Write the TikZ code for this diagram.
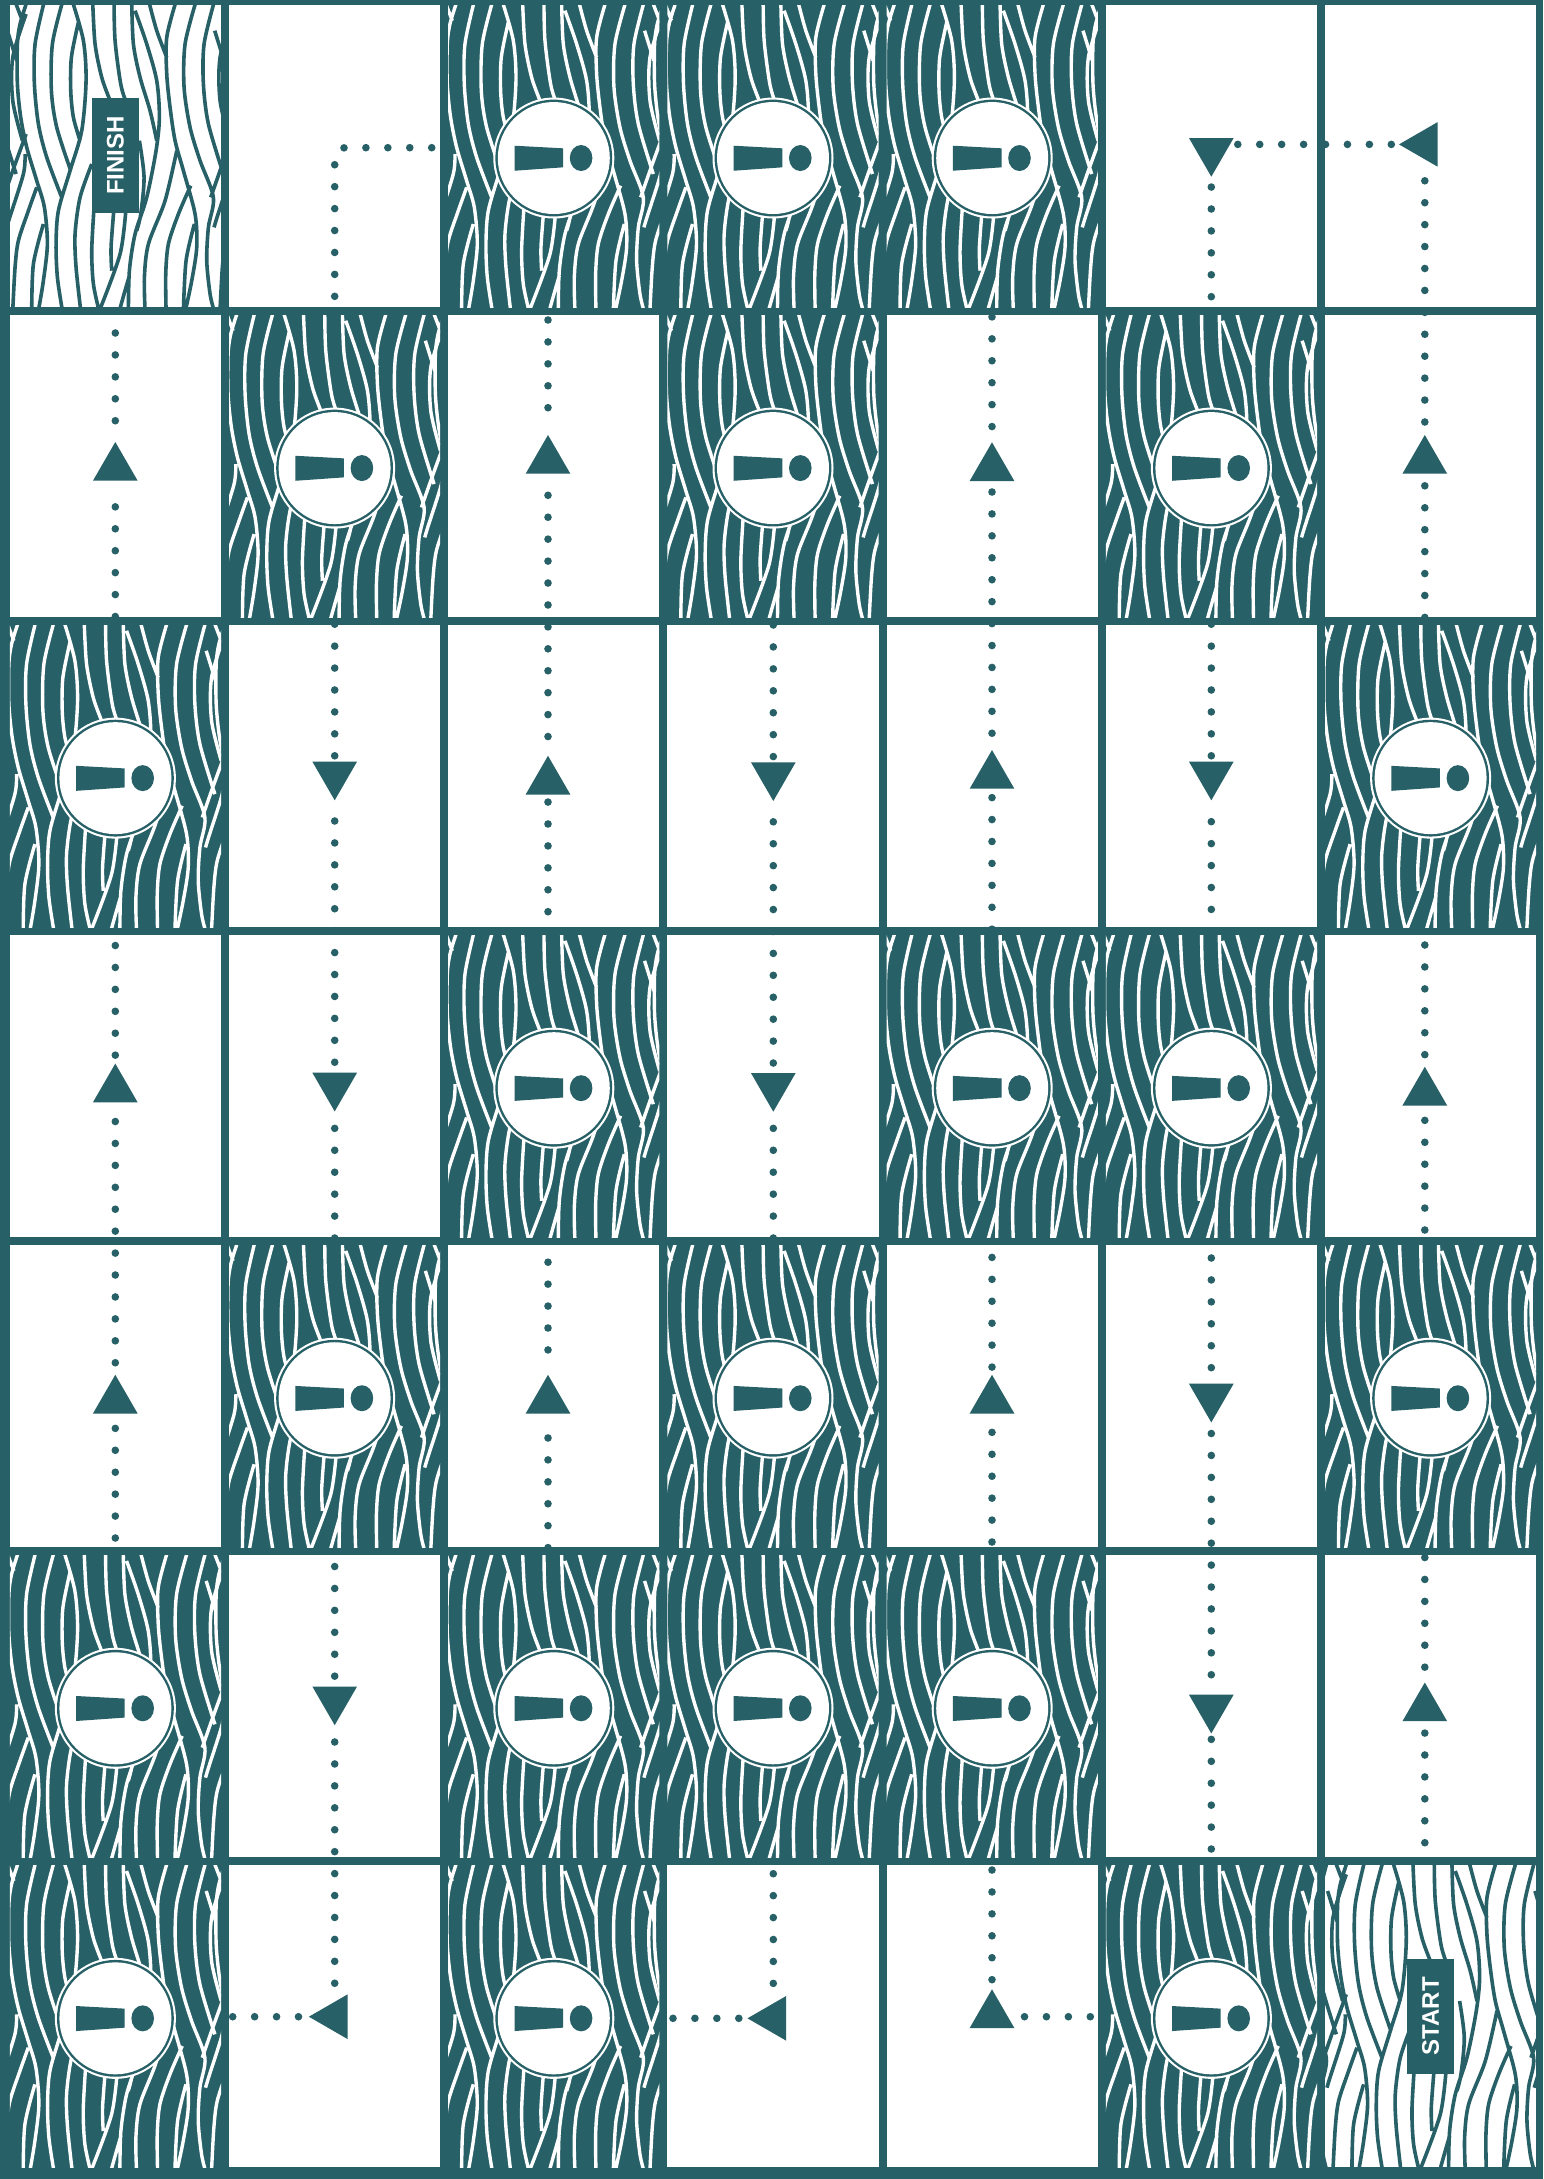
\documentclass[tikz,border=0pt]{standalone}
\usepackage{fontspec}
\setmainfont{Liberation Sans}
\usetikzlibrary{shapes.geometric}
\definecolor{woodteal}{HTML}{276066}

\begin{document}
\begin{tikzpicture}[
  x=0.5pt, y=-0.5pt,
  marker/.style={regular polygon, regular polygon sides=3, fill=woodteal, draw=none,
    minimum size=25.8pt, inner sep=0pt, outer sep=0pt},
  up/.style={marker, shape border rotate=0},
  down/.style={marker, shape border rotate=180},
  left/.style={marker, shape border rotate=90},
  trail/.style={draw=woodteal, line width=3.8pt, line cap=round,
    dash pattern=on 0pt off 10.965pt},
  trailend/.style={trail, shorten >=2.75pt},
  graindark/.style={draw=white, line width=1.7pt},
  grainlight/.style={draw=woodteal, line width=1.8pt},
  badge/.style={fill=woodteal, text=white, rotate=90, inner sep=0pt,
    minimum width=57.3pt, minimum height=23.5pt, font=\fontsize{12}{14}\selectfont\bfseries},
  grain/.pic={
    \begin{scope}[x=0.16667pt, y=-0.16667pt, shift={(-346,-466)}]
    \draw[pic actions]
      plot[smooth] coordinates {(80,5) (60,70) (52,130) (52,250) (62,350) (80,440) (110,540) (133,620) (142,730) (130,840) (115,930)}
      plot[smooth] coordinates {(132,5) (105,130) (103,250) (115,370) (140,470) (185,590)}
      plot[smooth] coordinates {(187,5) (157,130) (154,270) (170,380) (212,510)}
      plot[smooth] coordinates {(218,5) (250,120) (258,240) (245,390) (210,510) (175,630) (168,730) (172,830) (187,930)}
      plot[smooth] coordinates {(235,65) (214,170) (212,270) (220,350) (240,420)}
      plot[smooth] coordinates {(278,5) (285,130) (305,230) (330,300) (345,340)}
      plot[smooth] coordinates {(342,5) (345,120) (362,250) (380,310) (395,350)}
      plot[smooth] coordinates {(395,5) (400,130) (420,230) (450,330) (470,420)}
      plot[smooth] coordinates {(405,30) (440,130) (470,240) (478,350) (468,450) (440,590) (405,700) (388,810) (385,930)}
      plot[smooth] coordinates {(530,450) (495,600) (445,730) (433,830) (435,930)}
      plot[smooth] coordinates {(447,5) (470,90) (500,170)}
      plot[smooth] coordinates {(527,5) (500,110) (500,220) (510,320) (525,420) (550,510) (585,640) (590,740) (575,840) (556,930)}
      plot[smooth] coordinates {(587,5) (555,130) (552,260) (570,380) (600,480) (640,590) (625,680) (620,780) (630,880) (642,930)}
      plot[smooth] coordinates {(642,5) (612,130) (610,250) (625,370) (670,520)}
      plot[smooth] coordinates {(700,400) (689,430) (660,510) (632,590)}
      plot[smooth] coordinates {(700,40) (660,170) (660,300) (689,420)}
      plot[smooth] coordinates {(46,5) (67,60)}
      plot[smooth] coordinates {(22,90) (50,180)}
      plot[smooth] coordinates {(75,460) (70,520) (29,650) (20,680)}
      plot[smooth] coordinates {(110,560) (85,630) (55,720) (45,800) (38,930)}
      plot[smooth] coordinates {(130,670) (100,790) (95,930)}
      plot[smooth] coordinates {(275,490) (240,590) (225,700) (228,800) (242,930)}
      plot[smooth] coordinates {(282,620) (275,750) (280,850) (297,930)}
      plot[smooth] coordinates {(342,620) (333,740) (335,810)}
      plot[smooth] coordinates {(378,620) (360,760) (298,930)}
      plot[smooth] coordinates {(388,825) (372,880) (358,930)}
      plot[smooth] coordinates {(418,420) (432,530) (422,640) (410,690)}
      plot[smooth] coordinates {(572,555) (535,640) (505,730) (497,820) (498,930)}
      plot[smooth] coordinates {(583,670) (558,780) (550,930)};
    \end{scope}
  },
  hazard/.pic={
    \fill[white] (0,0) circle (60.5);
    \fill[woodteal] (0,0) circle (58.4);
    \fill[white] (0,0) circle (56);
    \fill[woodteal] (-39.3,-12.3) -- (9.3,-9.7) -- (9.3,9.3) -- (-39.3,12.7) -- cycle;
    \fill[woodteal] (27.3,0) ellipse (11.3 and 13);
  }
]
\useasboundingbox (0,0) rectangle (1543,2179);

% ---------------------------------------------------------------------------
% board: dark ground, white cells on top
% ---------------------------------------------------------------------------
\fill[woodteal] (0,0) rectangle (1543,2179);
\foreach \c in {0,...,6} {
  \foreach \r in {0,...,6} {
    \pgfmathsetmacro{\cx}{5.8+219.2*(\c+0.5)}
    \pgfmathsetmacro{\cy}{1+310.05*(\r+0.5)}
    \fill[white] (\cx-105.6,\cy-151) rectangle (\cx+105.6,\cy+151);
  }
}

% cells with the grain and the warning sign
\foreach \c/\r in {2/0,3/0,4/0,1/1,3/1,5/1,0/2,6/2,2/3,4/3,5/3,1/4,3/4,6/4,0/5,2/5,3/5,4/5,0/6,2/6,5/6} {
  \pgfmathsetmacro{\cx}{5.8+219.2*(\c+0.5)}
  \pgfmathsetmacro{\cy}{1+310.05*(\r+0.5)}
  \begin{scope}
    \fill[woodteal] (\cx-105.6,\cy-151) rectangle (\cx+105.6,\cy+151);
    \clip (\cx-105.6,\cy-151) rectangle (\cx+105.6,\cy+151);
    \pic[graindark] at (\cx-8.5,\cy) {grain};
    \pic[graindark] at (\cx+198.8,\cy) {grain};
  \end{scope}
  \pic at (\cx,\cy+2) {hazard};
}

% finish and start cells
\foreach \c/\r/\dx in {0/0/0,6/6/5} {
  \pgfmathsetmacro{\cx}{5.8+219.2*(\c+0.5)}
  \pgfmathsetmacro{\cy}{1+310.05*(\r+0.5)}
  \begin{scope}
    \clip (\cx-105.6,\cy-151) rectangle (\cx+105.6,\cy+151);
    \pic[grainlight] at (\cx+\dx,\cy) {grain};
    \pic[grainlight] at (\cx+\dx+207.3,\cy) {grain};
    \pic[grainlight] at (\cx+\dx-207.3,\cy) {grain};
  \end{scope}
}
\node[badge] (finish) at (115.4,155.5) {FINISH};
\node[badge] (start) at (1430.6,2016.3) {START};

% ---------------------------------------------------------------------------
% arrow markers
% ---------------------------------------------------------------------------
\foreach \n/\x/\y/\k in {
    t0a/115.3/467.8/up, t0b/115.3/1089.4/up, t0c/115.3/1400.6/up,
    t1a/334.7/774.5/down, t1b/334.7/1085.6/down, t1c/334.7/1699.4/down, t1d/334.7/2016.7/left,
    t2a/548/460.8/up, t2b/548/781.6/up, t2c/548/1400.6/up,
    t3a/773.3/775.2/down, t3b/773.3/1085.9/down, t3c/773.3/2018.3/left,
    t4a/992/468.1/up, t4b/992/775.8/up, t4c/992/1400.6/up, t4d/992/2015.1/up,
    t5a/1211.3/150.9/down, t5b/1211.3/774.5/down, t5c/1211.3/1396.6/down, t5d/1211.3/1707.6/down,
    t6a/1424.8/460.8/up, t6b/1424.8/1092.6/up, t6c/1424.8/1708.3/up, t6d/1424.8/144.4/left} {
  \node[\k] (\n) at (\x,\y) {};
}

% ---------------------------------------------------------------------------
% dotted trail, every run starts on a dot and stops at its marker
% ---------------------------------------------------------------------------
\foreach \x/\y/\t [count=\i] in {
    115.3/333/t0a, 115.3/616.5/t0a, 115.3/945.5/t0b, 115.3/1121.5/t0c, 115.3/1538/t0c,
    334.7/624.2/t1a, 334.7/821/t1b, 334.7/1238/t1b, 334.7/1566.5/t1c, 334.7/1742/t1d, 232.7/2016.7/t1d,
    548/320/t2a, 548/495.3/t2b, 548/911.7/t2b, 548/1262.2/t2c, 548/1547.6/t2c,
    773.3/625/t3a, 773.3/821.8/t3b, 773.3/1238/t3b, 773.3/1873.7/t3c, 673/2018.3/t3c,
    992/316.9/t4a, 992/492/t4b, 992/929.2/t4b, 992/1257.4/t4c, 992/1542/t4c, 992/1870/t4d,
    1211.3/296.7/t5a, 1211.3/624.2/t5b, 1211.3/909.4/t5b, 1211.3/1258/t5c, 1211.3/1433.5/t5d, 1211.3/1849/t5d,
    1424.8/422/t6d, 1424.8/617.4/t6a, 1424.8/945/t6b, 1424.8/1230/t6b, 1424.8/1557.5/t6c, 1424.8/1842.7/t6c} {
  \coordinate (s\i) at (\x,\y);
  \draw[trailend] (s\i) -- (\t);
}

% the three runs that meet a marker from the side
\coordinate (sideA) at (1391.3,144.4);
\coordinate (sideB) at (1090.3,2016.7);
\draw[trailend] (sideA) -- (sideA -| t5a.east);
\draw[trailend] (sideB) -- (sideB -| t4d.east);

% last run, round the corner into the finish
\coordinate (lastA) at (431.7,147.7);
\coordinate (lastB) at (334.7,298);
\draw[trail, rounded corners=5pt] (lastA) -| (lastB);

\end{tikzpicture}
\end{document}
